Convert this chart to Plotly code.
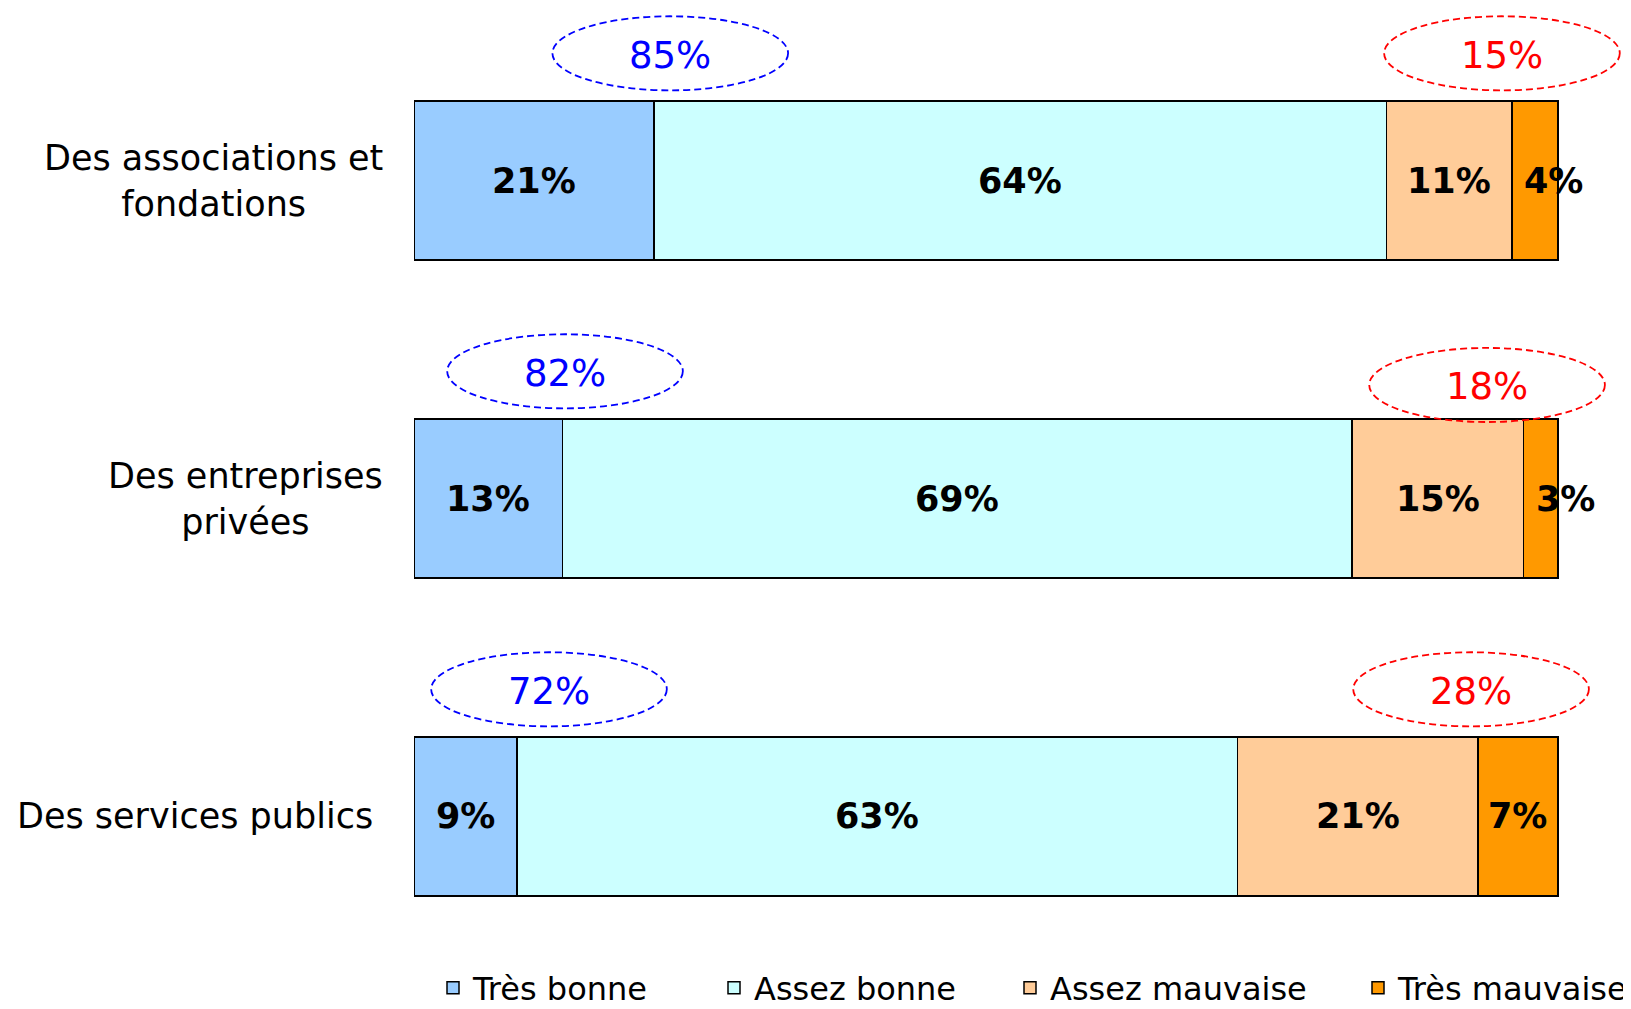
import plotly.graph_objects as go

categories = ["Des associations et<br>fondations", "Des entreprises<br>privées", "Des services publics"]
series_names = ["Très bonne", "Assez bonne", "Assez mauvaise", "Très mauvaise"]
tres_bonne = [21, 13, 9]
assez_bonne = [64, 69, 63]
assez_mauvaise = [11, 15, 21]
tres_mauvaise = [4, 3, 7]
series_values = [tres_bonne, assez_bonne, assez_mauvaise, tres_mauvaise]
colors = ["#99CCFF", "#CCFFFF", "#FFCC99", "#FF9900"]

# layout constants (positions of the bubble annotations, in axis units)
blue_x = [22.4, 13.2, 11.8]
red_x = [95.1, 93.8, 92.4]
blue_dy = [-0.40, -0.40, -0.40]
red_dy = [-0.40, -0.357, -0.40]
ell_w = 20.6
ell_h = 0.233
label_shift = [0, 0, -10]

FONT = "DejaVu Sans"
ypos = list(range(len(categories)))

W, H = 1623, 1001   # page body has an 8px margin
fig = go.Figure()
legend_x_px = [425, 706, 1002, 1350]
for i, (name, vals, col) in enumerate(zip(series_names, series_values, colors)):
    lg = "legend" if i == 0 else f"legend{i+1}"
    fig.add_trace(go.Bar(
        y=ypos, x=vals, name=name, orientation="h",
        marker=dict(color=col, line=dict(color="black", width=1.5)),
        width=0.5, legend=lg, hoverinfo="x+name",
    ))

annotations = []
shapes = []
for r in range(len(categories)):
    cum = 0
    for s in range(len(series_values)):
        v = series_values[s][r]
        start = cum
        cum += v
        if v < 5:
            annotations.append(dict(x=start, y=r, xref="x", yref="y", text=f"<b>{v}%</b>",
                                    showarrow=False, xanchor="left", xshift=10,
                                    font=dict(family=FONT, size=35, color="black")))
        else:
            annotations.append(dict(x=start + v / 2, y=r, xref="x", yref="y", text=f"<b>{v}%</b>",
                                    showarrow=False, xanchor="center",
                                    font=dict(family=FONT, size=35, color="black")))
    pos = tres_bonne[r] + assez_bonne[r]
    neg = assez_mauvaise[r] + tres_mauvaise[r]
    for cx, dy, txt, c in [(blue_x[r], blue_dy[r], pos, "#0000FF"), (red_x[r], red_dy[r], neg, "#FF0000")]:
        cy = r + dy
        shapes.append(dict(type="circle", xref="x", yref="y",
                           x0=cx - ell_w / 2, x1=cx + ell_w / 2,
                           y0=cy - ell_h / 2, y1=cy + ell_h / 2,
                           line=dict(color=c, width=1.8, dash="7px,4px"), layer="above"))
        annotations.append(dict(x=cx, y=cy, xref="x", yref="y", text=f"{txt}%", showarrow=False,
                                yshift=-2, font=dict(family=FONT, size=37, color=c)))
    annotations.append(dict(x=-0.0238, y=r, xref="paper", yref="y", text=categories[r], showarrow=False,
                            xanchor="right", align="center", xshift=label_shift[r],
                            font=dict(family=FONT, size=35, color="black")))

legends = {}
for i, lx in enumerate(legend_x_px):
    key = "legend" if i == 0 else f"legend{i+1}"
    legends[key] = dict(x=lx / W, xref="container", y=1 - 980 / H, yref="container",
                        xanchor="left", yanchor="middle", orientation="h",
                        font=dict(family=FONT, size=32, color="black"),
                        bgcolor="rgba(0,0,0,0)")

fig.update_layout(
    width=W, height=H,
    barmode="stack",
    plot_bgcolor="white", paper_bgcolor="white",
    margin=dict(l=406, r=0, t=0, b=49, autoexpand=False),
    xaxis=dict(range=[0, 1217 / 11.44], visible=False, fixedrange=True),
    yaxis=dict(range=[2.4513, -0.5425], visible=False, fixedrange=True),
    annotations=annotations, shapes=shapes,
    showlegend=True,
    font=dict(family=FONT),
    **legends,
)

fig.write_html("out.html")
